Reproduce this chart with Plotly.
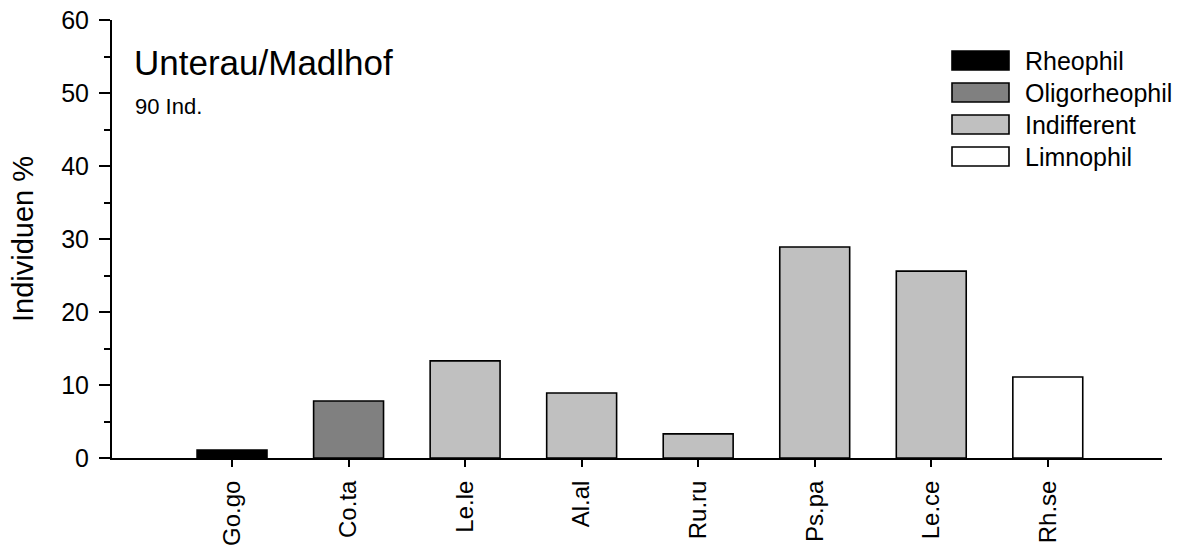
import plotly.graph_objects as go

# Fish species (abbreviated) and their share of all individuals caught
species = ["Go.go", "Co.ta", "Le.le", "Al.al", "Ru.ru", "Ps.pa", "Le.ce", "Rh.se"]
percent = [1.1, 7.8, 13.3, 8.9, 3.3, 28.9, 25.6, 11.1]
guild = ["Rheophil", "Oligorheophil", "Indifferent", "Indifferent",
         "Indifferent", "Indifferent", "Indifferent", "Limnophil"]

# Flow-preference guilds and their fill colours
guild_names = ["Rheophil", "Oligorheophil", "Indifferent", "Limnophil"]
guild_colors = ["#000000", "#808080", "#c0c0c0", "#ffffff"]

site_name = "Unterau/Madlhof"
sample_note = "90 Ind."

FONT = "Liberation Sans, Arial, Helvetica, sans-serif"
W, H = 1193, 549
ML, MR, MT, MB = 112, 31, 20, 91
PW, PH = W - ML - MR, H - MT - MB


def px(x):
    return (x - ML) / PW


def py(y):
    return (H - MB - y) / PH


color_of = dict(zip(guild_names, guild_colors))

fig = go.Figure()
fig.add_trace(go.Bar(
    x=species,
    y=percent,
    width=0.6,
    marker=dict(color=[color_of[g] for g in guild],
                line=dict(color="#000000", width=1.6)),
    showlegend=False,
    hoverinfo="x+y",
))

# Hand-drawn legend with wide swatches
shapes = []
annotations = []
row0, row_gap = 60.5, 32.0
for i, (name, col) in enumerate(zip(guild_names, guild_colors)):
    cy = row0 + i * row_gap
    shapes.append(dict(
        type="rect", xref="paper", yref="paper",
        x0=px(952), x1=px(1009), y0=py(cy - 9.5), y1=py(cy + 9.5),
        fillcolor=col, line=dict(color="#000000", width=1.6), layer="above",
    ))
    annotations.append(dict(
        text=name, xref="paper", yref="paper", x=px(1023), y=py(cy),
        xanchor="left", yanchor="middle", showarrow=False,
        font=dict(family=FONT, size=25, color="#000000"),
    ))

annotations.append(dict(
    text=site_name, xref="paper", yref="paper", x=px(132), y=py(62),
    xanchor="left", yanchor="middle", showarrow=False,
    font=dict(family=FONT, size=35, color="#000000"),
))
annotations.append(dict(
    text=sample_note, xref="paper", yref="paper", x=px(133), y=py(106),
    xanchor="left", yanchor="middle", showarrow=False,
    font=dict(family=FONT, size=22, color="#000000"),
))

fig.update_layout(
    width=W, height=H,
    margin=dict(l=ML, r=MR, t=MT, b=MB, pad=0),
    paper_bgcolor="#ffffff", plot_bgcolor="#ffffff",
    font=dict(family=FONT, color="#000000"),
    bargap=0.4,
    shapes=shapes,
    annotations=annotations,
)

fig.update_xaxes(
    type="category",
    range=[-1.03, 7.98],
    automargin=False,
    showline=True, linecolor="#000000", linewidth=2,
    ticks="outside", ticklen=7, tickwidth=2, tickcolor="#000000",
    tickangle=-90, ticklabelstandoff=4,
    tickfont=dict(family=FONT, size=24, color="#000000"),
    showgrid=False, zeroline=False,
)

fig.update_yaxes(
    range=[0, 60],
    automargin=False,
    tickmode="linear", tick0=0, dtick=10,
    showline=True, linecolor="#000000", linewidth=2,
    ticks="outside", ticklen=11, tickwidth=2, tickcolor="#000000",
    minor=dict(dtick=5, ticks="outside", ticklen=6, tickwidth=2, tickcolor="#000000"),
    tickfont=dict(family=FONT, size=25, color="#000000"),
    ticklabelstandoff=5,
    title=dict(text="Individuen %", font=dict(family=FONT, size=29, color="#000000"),
               standoff=19),
    showgrid=False, zeroline=False,
)

fig.write_html("out.html")
